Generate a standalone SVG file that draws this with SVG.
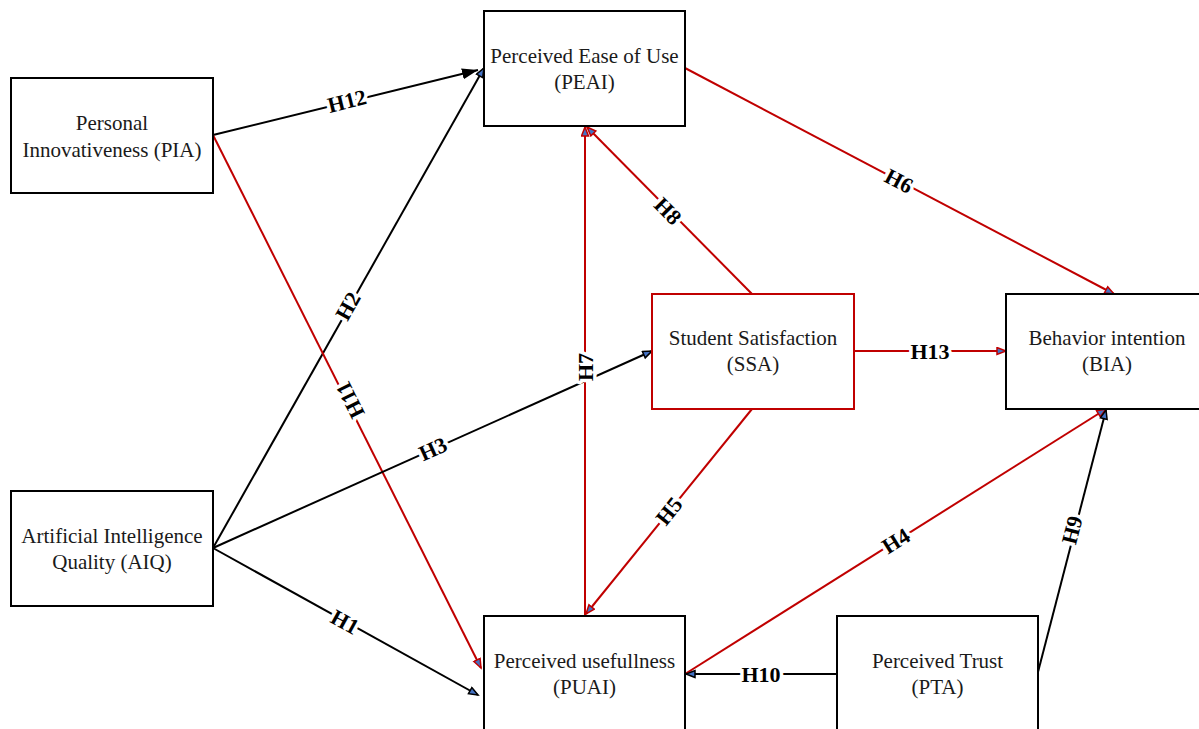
<svg xmlns="http://www.w3.org/2000/svg" width="1199" height="729" viewBox="0 0 1199 729">
<style>
.box{fill:#fff;stroke:#000;stroke-width:2}
.rbox{fill:#fff;stroke:#C00000;stroke-width:2}
.t{font-family:"Liberation Serif","Times New Roman",serif;font-size:21px;fill:#1a1a1a;text-anchor:middle}
.k{stroke:#000;stroke-width:2;fill:none}
.r{stroke:#C00000;stroke-width:2;fill:none}
.lb{font-family:"Liberation Serif","Times New Roman",serif;font-size:22px;font-weight:bold;fill:#000;text-anchor:middle;dominant-baseline:central;stroke:#fff;stroke-width:7;paint-order:stroke;stroke-linejoin:round}
</style>
<defs>
<marker id="ak" markerUnits="userSpaceOnUse" markerWidth="12" markerHeight="10" refX="10" refY="4.5" orient="auto"><path d="M1,1 L10,4.5 L1,8 z" fill="#4472C4" stroke="#000" stroke-width="1.5"/></marker>
<marker id="ar" markerUnits="userSpaceOnUse" markerWidth="12" markerHeight="10" refX="10" refY="4.5" orient="auto"><path d="M1,1 L10,4.5 L1,8 z" fill="#4472C4" stroke="#C00000" stroke-width="1.5"/></marker>
<marker id="ab" markerUnits="userSpaceOnUse" markerWidth="18" markerHeight="12" refX="16" refY="5.5" orient="auto"><path d="M0,0 L16,5.5 L0,11 z" fill="#000"/></marker>
</defs>
<g id="connectors">
<line class="k" x1="213" y1="135" x2="478" y2="70" marker-end="url(#ab)"/>
<line class="k" x1="213" y1="548" x2="484" y2="68" marker-end="url(#ak)"/>
<line class="r" x1="213" y1="135" x2="481" y2="668" marker-end="url(#ar)"/>
<line class="k" x1="213" y1="548" x2="652" y2="351" marker-end="url(#ak)"/>
<line class="k" x1="213" y1="548" x2="478" y2="695" marker-end="url(#ak)"/>
<line class="r" x1="585" y1="616" x2="585" y2="127" marker-end="url(#ar)"/>
<line class="r" x1="752" y1="294" x2="587" y2="127" marker-end="url(#ar)"/>
<line class="r" x1="752" y1="409" x2="586" y2="614" marker-end="url(#ar)"/>
<line class="r" x1="685" y1="68" x2="1114" y2="294" marker-end="url(#ar)"/>
<line class="r" x1="854" y1="351" x2="1006" y2="351" marker-end="url(#ar)"/>
<line class="r" x1="685" y1="674" x2="1106" y2="409" marker-end="url(#ar)"/>
<line class="k" x1="1038" y1="672" x2="1106" y2="410" marker-end="url(#ak)"/>
<line class="k" x1="837" y1="674" x2="686" y2="674" marker-end="url(#ak)"/>
<text class="lb" transform="translate(347,101) rotate(-13.8)">H12</text>
<text class="lb" transform="translate(348,306) rotate(-60.5)">H2</text>
<text class="lb" transform="translate(350,400) rotate(-116.7)">H11</text>
<text class="lb" transform="translate(433,449) rotate(-24.2)">H3</text>
<text class="lb" transform="translate(345,622) rotate(29)">H1</text>
<text class="lb" transform="translate(585,367) rotate(-90)">H7</text>
<text class="lb" transform="translate(668,211) rotate(45.3)">H8</text>
<text class="lb" transform="translate(669,511) rotate(-51)">H5</text>
<text class="lb" transform="translate(899,181) rotate(27.8)">H6</text>
<text class="lb" transform="translate(930,351)">H13</text>
<text class="lb" transform="translate(896,541) rotate(-32.2)">H4</text>
<text class="lb" transform="translate(1072,530) rotate(-75.4)">H9</text>
<text class="lb" transform="translate(761,674)">H10</text>
</g>
<g id="PIA"><rect class="box" x="11" y="78" width="202" height="115"/><text class="t" x="112" y="130">Personal</text><text class="t" x="112" y="157">Innovativeness (PIA)</text></g>
<g id="PEAI"><rect class="box" x="484" y="11" width="201" height="115"/><text class="t" x="584.5" y="63">Perceived Ease of Use</text><text class="t" x="584.5" y="89">(PEAI)</text></g>
<g id="SSA"><rect class="rbox" x="652" y="294" width="202" height="115"/><text class="t" x="753" y="345">Student Satisfaction</text><text class="t" x="753" y="371">(SSA)</text></g>
<g id="BIA"><rect class="box" x="1006" y="294" width="202" height="115"/><text class="t" x="1107" y="345">Behavior intention</text><text class="t" x="1107" y="371">(BIA)</text></g>
<g id="AIQ"><rect class="box" x="11" y="491" width="202" height="115"/><text class="t" x="112" y="543">Artificial Intelligence</text><text class="t" x="112" y="569">Quality (AIQ)</text></g>
<g id="PUAI"><rect class="box" x="484" y="616" width="201" height="116"/><text class="t" x="584.5" y="668">Perceived usefullness</text><text class="t" x="584.5" y="694">(PUAI)</text></g>
<g id="PTA"><rect class="box" x="837" y="616" width="201" height="116"/><text class="t" x="937.5" y="668">Perceived Trust</text><text class="t" x="937.5" y="694">(PTA)</text></g>
</svg>
